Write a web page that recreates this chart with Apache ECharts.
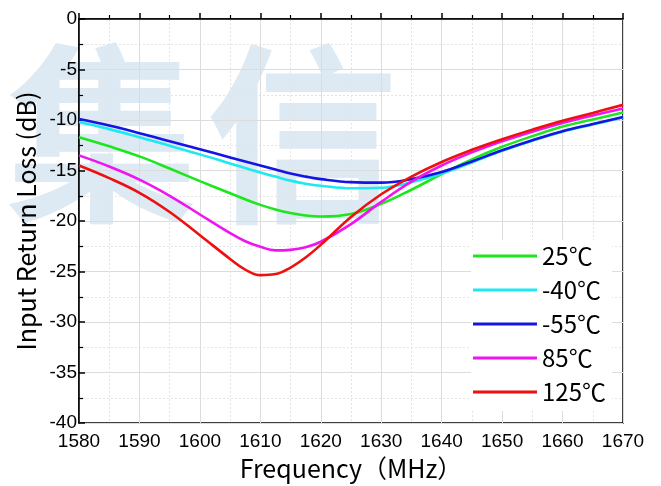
<!DOCTYPE html>
<html>
<head>
<meta charset="utf-8">
<script src="https://cdn.jsdelivr.net/npm/echarts@6/dist/echarts.min.js"></script>
<style>
  html, body { margin: 0; padding: 0; background: #fff; }
  #chart { width: 661px; height: 486px; }
</style>
</head>
<body>
<div id="chart"></div>
<script>
// Frequency sweep points (MHz), denser around the match dip
const freq = [1580, 1585, 1590, 1595, 1600, 1605, 1607.5, 1610, 1612.5, 1615, 1617.5,
              1620, 1625, 1630, 1635, 1640, 1645, 1650, 1655, 1660, 1665, 1670];

// Input return loss (dB) per temperature
const rl25 = [-11.7, -12.6, -13.6, -14.8, -16.05, -17.25, -17.85, -18.4, -18.85, -19.2, -19.45,
              -19.55, -19.3, -18.3, -16.9, -15.35, -13.9, -12.65, -11.6, -10.65, -9.95, -9.25];
const rlM40 = [-10.2, -10.9, -11.7, -12.55, -13.4, -14.3, -14.75, -15.2, -15.6, -16.0, -16.3,
               -16.5, -16.75, -16.7, -16.15, -15.3, -14.2, -13.05, -12.05, -11.15, -10.45, -9.75];
const rlM55 = [-9.9, -10.55, -11.3, -12.1, -12.9, -13.7, -14.1, -14.5, -14.9, -15.3, -15.6,
               -15.85, -16.15, -16.2, -15.85, -15.15, -14.1, -13.0, -12.0, -11.1, -10.4, -9.7];
const rl85 = [-13.5, -14.6, -15.9, -17.5, -19.35, -21.2, -22.0, -22.55, -22.9, -22.85, -22.6,
              -22.05, -20.3, -18.1, -16.1, -14.5, -13.2, -12.1, -11.15, -10.3, -9.55, -8.85];
const rl125 = [-14.5, -15.75, -17.2, -19.1, -21.4, -23.75, -24.8, -25.35, -25.25, -24.6, -23.6,
               -22.35, -19.6, -17.35, -15.6, -14.15, -12.95, -11.9, -10.95, -10.07, -9.3, -8.5];

const seriesNames = ['25℃', '-40℃', '-55℃', '85℃', '125℃'];
const seriesData = [rl25, rlM40, rlM55, rl85, rl125];
const seriesColors = ['#1ee61e', '#1ee8f0', '#1414e6', '#f014f0', '#ee1010'];

const chart = echarts.init(document.getElementById('chart'));

const cjk = '"Noto Sans CJK SC", "Noto Sans", sans-serif';
const latin = '"Liberation Sans", Arial, sans-serif';

const axisCommon = {
  axisLine: { show: true, lineStyle: { color: '#000', width: 1.5 } },
  axisTick: { show: true, inside: true, length: 6, lineStyle: { color: '#000', width: 1.5 } },
  minorTick: { show: true, splitNumber: 2, length: 4, lineStyle: { color: '#000', width: 1.2 } },
  splitLine: { show: true, lineStyle: { color: '#dcdcdc', width: 1 } },
  minorSplitLine: { show: true, lineStyle: { color: '#e4e4e4', width: 1, type: [2, 2] } },
  nameTextStyle: { fontFamily: cjk, fontSize: 25, color: '#000' }
};

chart.setOption({
  animation: false,
  backgroundColor: '#fff',
  graphic: [
    {
      type: 'text', left: 6, top: 38, z: -10, silent: true,
      style: { text: '集', font: 'bold 192px ' + cjk, fill: '#dde9f3' }
    },
    {
      type: 'text', left: 206, top: 38, z: -10, silent: true,
      style: { text: '信', font: 'bold 192px ' + cjk, fill: '#dde9f3' }
    }
  ],
  grid: {
    left: 79, right: 38, top: 19, bottom: 59,
    show: true, borderColor: '#000', borderWidth: 1.5, backgroundColor: 'transparent'
  },
  legend: {
    orient: 'vertical',
    left: 471, top: 240,
    data: seriesNames,
    icon: 'rect',
    itemWidth: 64, itemHeight: 3,
    itemGap: 8,
    backgroundColor: '#fff',
    padding: [3, 6, 6, 2],
    textStyle: { fontFamily: cjk, fontSize: 24, lineHeight: 26, color: '#000' }
  },
  xAxis: Object.assign({}, axisCommon, {
    type: 'value',
    min: 1580, max: 1670, interval: 10,
    name: 'Frequency（MHz）',
    nameLocation: 'middle',
    nameGap: 24,
    axisLabel: { fontFamily: latin, fontSize: 19, color: '#000', margin: 9, formatter: v => String(v) }
  }),
  yAxis: Object.assign({}, axisCommon, {
    type: 'value',
    min: -40, max: 0, interval: 5,
    name: 'Input Return Loss (dB)',
    nameLocation: 'middle',
    nameGap: 39,
    axisLabel: { fontFamily: latin, fontSize: 19, color: '#000', margin: 2, formatter: v => String(v) }
  }),
  series: seriesNames.map((name, i) => ({
    name: name,
    type: 'line',
    smooth: 0.4,
    showSymbol: false,
    symbol: 'none',
    data: freq.map((f, j) => [f, seriesData[i][j]]),
    lineStyle: { color: seriesColors[i], width: 2.6 },
    itemStyle: { color: seriesColors[i] },
    z: 2 + i
  }))
});
</script>
</body>
</html>
